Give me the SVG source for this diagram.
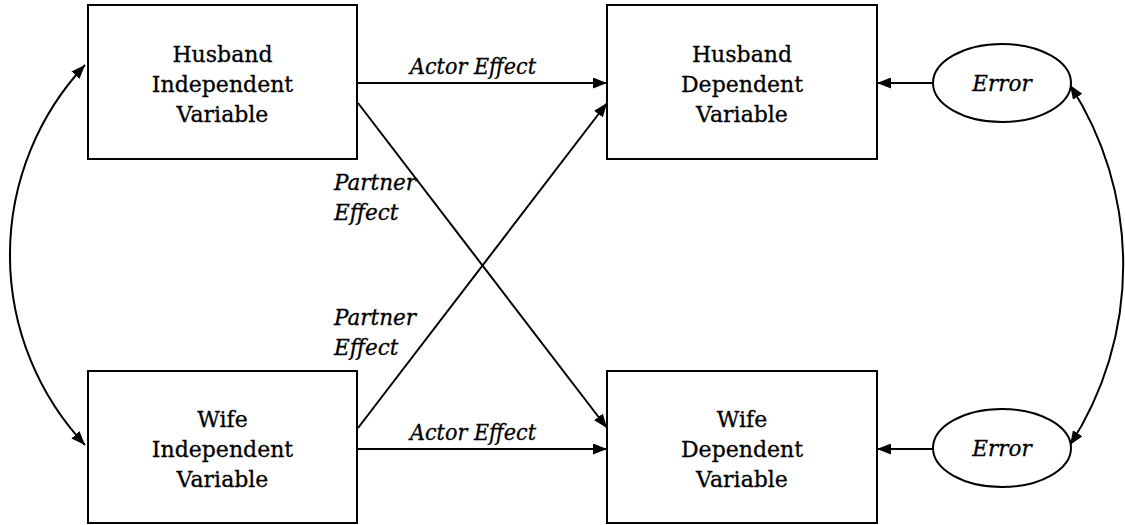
<svg xmlns="http://www.w3.org/2000/svg" width="1125" height="525" viewBox="0 0 1125 525">
  <style>
    .box { fill: #fff; stroke: #000; stroke-width: 2; }
    .err { fill: #fff; stroke: #000; stroke-width: 2; }
    .lbl { font-family: "DejaVu Serif", "Liberation Serif", serif; font-size: 22px; fill: #000; stroke: #000; stroke-width: 0.3; text-anchor: middle; }
    .it { font-family: "DejaVu Serif", "Liberation Serif", serif; font-size: 21.5px; font-style: italic; fill: #000; stroke: #000; stroke-width: 0.3; }
    .edge { fill: none; stroke: #000; stroke-width: 2; }
  </style>
  <defs>
    <marker id="arrow" viewBox="0 0 14 11" refX="14" refY="5.5" markerWidth="14" markerHeight="11" markerUnits="userSpaceOnUse" orient="auto-start-reverse">
      <path d="M0,0 L14,5.5 L0,11 Z" fill="#000"/>
    </marker>
  </defs>

  <rect width="1125" height="525" fill="#fff"/>

  <g id="connectors">
    <!-- actor paths -->
    <line class="edge" x1="358" y1="83" x2="607" y2="83" marker-end="url(#arrow)"/>
    <line class="edge" x1="358" y1="449" x2="607" y2="449" marker-end="url(#arrow)"/>
    <!-- partner paths -->
    <line class="edge" x1="358" y1="103" x2="607" y2="428" marker-end="url(#arrow)"/>
    <line class="edge" x1="358" y1="428" x2="607" y2="103" marker-end="url(#arrow)"/>
    <!-- residuals -->
    <line class="edge" x1="933" y1="83" x2="877" y2="83" marker-end="url(#arrow)"/>
    <line class="edge" x1="933" y1="449" x2="877" y2="449" marker-end="url(#arrow)"/>
    <!-- covariances -->
    <path class="edge" d="M85,65 A278,278 0 0 0 85,445" marker-start="url(#arrow)" marker-end="url(#arrow)"/>
    <path class="edge" d="M1070,85 A331,331 0 0 1 1070,445" marker-start="url(#arrow)" marker-end="url(#arrow)"/>
  </g>

  <g id="labels">
    <text class="it" x="410" y="74" textLength="126" lengthAdjust="spacingAndGlyphs">Actor Effect</text>
    <text class="it" x="410" y="440" textLength="126" lengthAdjust="spacingAndGlyphs">Actor Effect</text>
    <text class="it" x="334" y="190">Partner</text>
    <text class="it" x="334" y="220">Effect</text>
    <text class="it" x="334" y="325">Partner</text>
    <text class="it" x="334" y="355">Effect</text>
  </g>

  <g id="husband-iv">
    <rect class="box" x="88" y="5" width="269" height="154"/>
    <text class="lbl" x="222.5" y="62">Husband</text>
    <text class="lbl" x="222.5" y="92">Independent</text>
    <text class="lbl" x="222.5" y="122">Variable</text>
  </g>

  <g id="wife-iv">
    <rect class="box" x="88" y="371" width="269" height="152"/>
    <text class="lbl" x="222.5" y="427">Wife</text>
    <text class="lbl" x="222.5" y="457">Independent</text>
    <text class="lbl" x="222.5" y="487">Variable</text>
  </g>

  <g id="husband-dv">
    <rect class="box" x="607" y="5" width="270" height="154"/>
    <text class="lbl" x="742" y="62">Husband</text>
    <text class="lbl" x="742" y="92">Dependent</text>
    <text class="lbl" x="742" y="122">Variable</text>
  </g>

  <g id="wife-dv">
    <rect class="box" x="607" y="371" width="270" height="152"/>
    <text class="lbl" x="742" y="427">Wife</text>
    <text class="lbl" x="742" y="457">Dependent</text>
    <text class="lbl" x="742" y="487">Variable</text>
  </g>

  <g id="husband-error">
    <ellipse class="err" cx="1002" cy="83" rx="69" ry="39"/>
    <text class="it" x="1002" y="91" text-anchor="middle">Error</text>
  </g>

  <g id="wife-error">
    <ellipse class="err" cx="1002" cy="448" rx="69" ry="39"/>
    <text class="it" x="1002" y="456" text-anchor="middle">Error</text>
  </g>
</svg>
